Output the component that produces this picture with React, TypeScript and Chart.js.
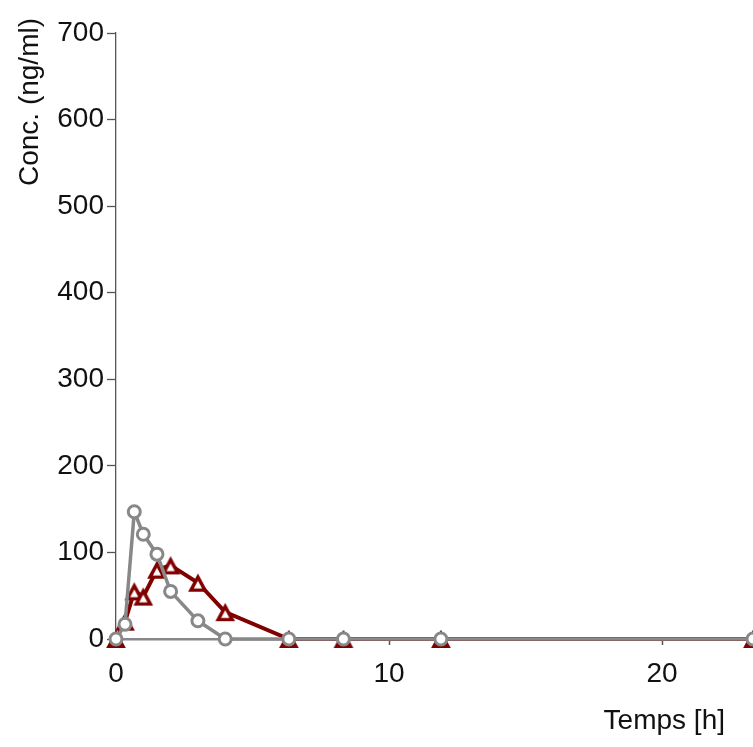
import React, { useEffect, useRef } from "react";
import { Chart, registerables } from "chart.js";

Chart.register(...registerables);

// Sampling times (h)
const times = [0, 0.33, 0.67, 1, 1.5, 2, 3, 4, 6.33, 8.33, 11.9, 23.33];
// Grey series (circles), ng/ml
const circleConc = [0, 17, 147, 121, 98, 55, 21, 0, 0, 0, 0, 0];
// Dark red series (triangles), ng/ml
const triangleConc = [0, 20, 55, 49, 80, 85, 65, 31, 0, 0, 0, 0];

const xTitle = "Temps [h]";
const yTitle = "Conc. (ng/ml)";

const FONT = "'Liberation Sans', Arial, sans-serif";
const GREY = "#888888";
const RED = "#800000";

function makeTriangle(): HTMLCanvasElement {
  const c = document.createElement("canvas");
  c.width = 28;
  c.height = 28;
  const ctx = c.getContext("2d")!;
  ctx.translate(14, 14);
  ctx.beginPath();
  ctx.moveTo(0, -5.6);
  ctx.lineTo(7, 7.4);
  ctx.lineTo(-7, 7.4);
  ctx.closePath();
  ctx.fillStyle = "#ffffff";
  ctx.fill();
  ctx.lineWidth = 3.4;
  ctx.lineJoin = "miter";
  ctx.strokeStyle = RED;
  ctx.stroke();
  return c;
}

const titlesPlugin = {
  id: "customTitles",
  afterDraw(chart: any) {
    const ctx = chart.ctx;
    ctx.save();
    ctx.fillStyle = "#111111";
    ctx.font = `28px ${FONT}`;
    ctx.textAlign = "right";
    ctx.textBaseline = "middle";
    ctx.fillText(xTitle, 725, 721);
    ctx.translate(30, 18);
    ctx.rotate(-Math.PI / 2);
    ctx.textAlign = "right";
    ctx.textBaseline = "middle";
    ctx.fillText(yTitle, 0, 0);
    ctx.restore();
  },
};

export default function App() {
  const ref = useRef<HTMLCanvasElement | null>(null);

  useEffect(() => {
    if (!ref.current) return;
    const tri = makeTriangle();
    const chart = new Chart(ref.current, {
      type: "line",
      data: {
        datasets: [
          {
            label: "A",
            data: times.map((t, i) => ({ x: t, y: circleConc[i] })),
            borderColor: GREY,
            borderWidth: 3.5,
            pointStyle: "circle",
            pointRadius: 6,
            pointBorderWidth: 3,
            pointBorderColor: GREY,
            pointBackgroundColor: "#ffffff",
            tension: 0,
            clip: false as any,
          },
          {
            label: "B",
            data: times.map((t, i) => ({ x: t, y: triangleConc[i] })),
            borderColor: RED,
            borderWidth: 4,
            pointStyle: tri as any,
            pointRadius: 9,
            tension: 0,
            clip: false as any,
          },
        ],
      },
      options: {
        animation: false,
        responsive: false,
        devicePixelRatio: 1,
        layout: { autoPadding: false, padding: { top: 33, left: 0, right: 0, bottom: 0 } },
        plugins: {
          legend: { display: false },
          tooltip: { enabled: false },
        },
        scales: {
          x: {
            type: "linear",
            min: 0,
            max: 23.33,
            afterFit: (s: any) => {
              s.height = 108;
            },
            ticks: {
              stepSize: 10,
              includeBounds: false,
              color: "#111111",
              font: { family: FONT, size: 28 },
              padding: 12,
            },
            grid: {
              drawOnChartArea: false,
              drawTicks: true,
              tickLength: 6,
              tickColor: "#555555",
              tickWidth: 1.5,
            },
            border: { display: true, color: GREY, width: 2.5 },
          },
          y: {
            type: "linear",
            min: 0,
            max: 700,
            afterFit: (s: any) => {
              s.width = 116;
            },
            ticks: {
              stepSize: 100,
              color: "#111111",
              font: { family: FONT, size: 28 },
              padding: 3,
            },
            grid: {
              drawOnChartArea: false,
              drawTicks: true,
              tickLength: 9,
              tickColor: "#555555",
              tickWidth: 1.3,
            },
            border: { display: true, color: "#555555", width: 1.3 },
          },
        },
      },
      plugins: [titlesPlugin],
    });
    return () => chart.destroy();
  }, []);

  return (
    <div style={{ position: "absolute", left: 0, top: 0, width: 753, height: 747 }}>
      <canvas ref={ref} width={753} height={747} style={{ display: "block" }} />
    </div>
  );
}
